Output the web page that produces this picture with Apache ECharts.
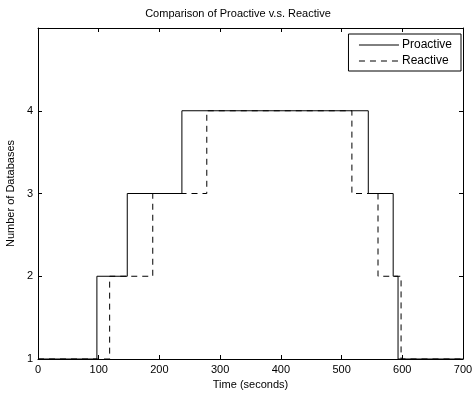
<!DOCTYPE html>
<html><head><meta charset="utf-8">
<script src="https://cdn.jsdelivr.net/npm/echarts@6/dist/echarts.min.js"></script>
<style>html,body{margin:0;padding:0;background:#fff}#c{width:476px;height:396px}</style>
</head><body><div id="c"></div>
<script>
var proTimes = [0, 97, 147, 237, 544, 585, 593, 700];
var proValues = [1, 2, 3, 4, 3, 2, 1, 1];
var reaTimes = [0, 118, 189, 278, 517, 560, 598, 700];
var reaValues = [1, 2, 3, 4, 3, 2, 1, 1];
var xTicks = [0, 100, 200, 300, 400, 500, 600, 700];
var yTicks = [1, 2, 3, 4];

function pairs(t, v) { return t.map(function (x, i) { return [x, v[i]]; }); }
var font = 'Liberation Sans, Arial, sans-serif';
var chart = echarts.init(document.getElementById('c'), null, {renderer: 'canvas'});
var axLine = {show: true, onZero: false, lineStyle: {color: '#000', width: 1}};
var tick = {inside: true, length: 4, lineStyle: {color: '#000'}};
chart.setOption({
  animation: false,
  title: {text: 'Comparison of Proactive v.s. Reactive', left: 'center', top: 3,
    textStyle: {fontFamily: font, fontSize: 11, fontWeight: 'normal', color: '#000'}},
  grid: {left: 38, right: 13, top: 28, bottom: 37, outerBoundsMode: 'none', containLabel: false},
  legend: {right: 15, top: 34, orient: 'vertical', itemWidth: 40, itemHeight: 14, itemGap: 4,
    borderColor: '#000', borderWidth: 1, backgroundColor: '#fff', padding: [5, 9, 4, 10],
    itemStyle: {opacity: 0}, lineStyle: {width: 1},
    textStyle: {fontFamily: font, fontSize: 12, color: '#000', padding: [0, 0, 0, -2]},
    data: ['Proactive', 'Reactive']},
  xAxis: [{type: 'value', min: 0, max: 700, interval: 100, name: 'Time (seconds)',
    nameLocation: 'middle', nameGap: 17,
    nameTextStyle: {fontFamily: font, fontSize: 11, color: '#000'},
    axisLine: axLine, axisTick: tick,
    axisLabel: {fontFamily: font, fontSize: 11, color: '#000', margin: 5,
      formatter: function (v) { return xTicks.indexOf(v) >= 0 ? String(v) : ''; }},
    splitLine: {show: false}},
    {type: 'value', position: 'top', min: 0, max: 700, interval: 100,
    axisLine: axLine, axisTick: tick,
    axisLabel: {show: false}, splitLine: {show: false}}],
  yAxis: [{type: 'value', min: 1, max: 5, interval: 1, name: 'Number of Databases',
    nameLocation: 'middle', nameGap: 14,
    nameTextStyle: {fontFamily: font, fontSize: 11, color: '#000'},
    axisLine: axLine, axisTick: tick,
    axisLabel: {fontFamily: font, fontSize: 11, color: '#000', margin: 5,
      formatter: function (v) { return yTicks.indexOf(v) >= 0 ? String(v) : ''; }},
    splitLine: {show: false}},
    {type: 'value', position: 'right', min: 1, max: 5, interval: 1,
    axisLine: axLine, axisTick: tick,
    axisLabel: {show: false}, splitLine: {show: false}}],
  series: [
    {name: 'Proactive', type: 'line', step: 'end', symbol: 'none',
      data: pairs(proTimes, proValues), lineStyle: {color: '#000', width: 1}, itemStyle: {color: '#000'}},
    {name: 'Reactive', type: 'line', step: 'end', symbol: 'none',
      data: pairs(reaTimes, reaValues), lineStyle: {color: '#000', width: 1, type: [6, 5]}, itemStyle: {color: '#000'}}
  ]
});
</script></body></html>
